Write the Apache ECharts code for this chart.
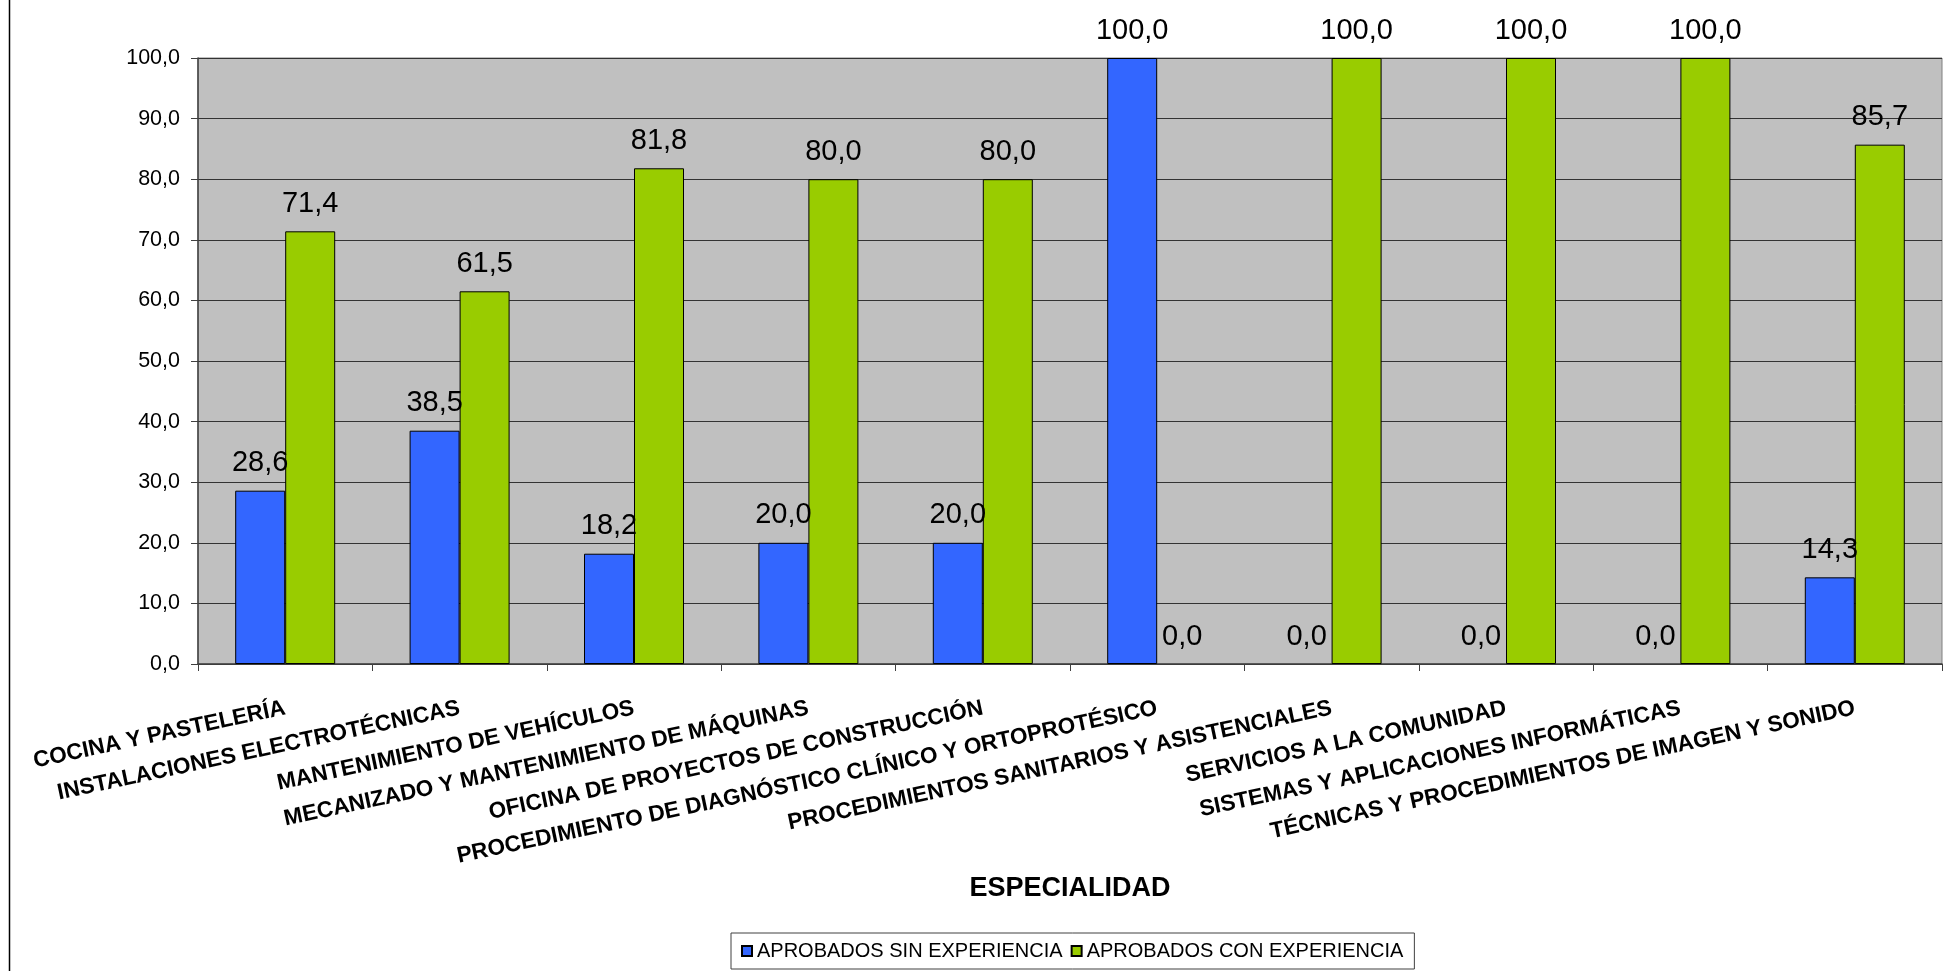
<!DOCTYPE html>
<html>
<head>
<meta charset="utf-8">
<script src="https://cdn.jsdelivr.net/npm/echarts@6/dist/echarts.min.js"></script>
<style>
html,body{margin:0;padding:0;background:#fff;}
#chart{width:1943px;height:971px;}
</style>
</head>
<body>
<div id="chart"></div>
<script>
const categories = [
  "COCINA Y PASTELERÍA",
  "INSTALACIONES ELECTROTÉCNICAS",
  "MANTENIMIENTO DE VEHÍCULOS",
  "MECANIZADO Y MANTENIMIENTO DE MÁQUINAS",
  "OFICINA DE PROYECTOS DE CONSTRUCCIÓN",
  "PROCEDIMIENTO DE DIAGNÓSTICO CLÍNICO Y ORTOPROTÉSICO",
  "PROCEDIMIENTOS SANITARIOS Y ASISTENCIALES",
  "SERVICIOS A LA COMUNIDAD",
  "SISTEMAS Y APLICACIONES INFORMÁTICAS",
  "TÉCNICAS Y PROCEDIMIENTOS DE IMAGEN Y SONIDO"
];
const sinExperiencia = [28.6, 38.5, 18.2, 20.0, 20.0, 100.0, 0.0, 0.0, 0.0, 14.3];
const conExperiencia = [71.4, 61.5, 81.8, 80.0, 80.0, 0.0, 100.0, 100.0, 100.0, 85.7];
const seriesNames = ["APROBADOS SIN EXPERIENCIA", "APROBADOS CON EXPERIENCIA"];
const axisTitle = "ESPECIALIDAD";

const fmt = v => Number(v).toFixed(1).replace('.', ',');
const FONT = '"Liberation Sans", Arial, sans-serif';

// zero-height bars draw no outline
const toItems = arr => arr.map(v => v === 0 ? {value: v, itemStyle: {borderWidth: 0}} : v);

const chart = echarts.init(document.getElementById('chart'), null, {renderer: 'canvas'});

const barLabel = {
  show: true,
  position: 'top',
  distance: 13,
  fontSize: 29,
  fontFamily: FONT,
  color: '#000',
  formatter: p => fmt(p.value)
};

chart.setOption({
  animation: false,
  backgroundColor: '#ffffff',
  textStyle: {fontFamily: FONT},
  graphic: [{
    type: 'line',
    shape: {x1: 9.5, y1: 0, x2: 9.5, y2: 971},
    style: {stroke: '#000', lineWidth: 1.5},
    silent: true
  }],
  grid: {
    left: 198, top: 58, right: 1, bottom: 307,
    show: true,
    backgroundColor: '#C0C0C0',
    borderColor: '#808080',
    borderWidth: 1
  },
  legend: {
    left: 731, top: 933,
    orient: 'horizontal',
    itemWidth: 10, itemHeight: 10,
    itemGap: 8,
    padding: [8, 11, 8, 10],
    borderColor: '#404040',
    borderWidth: 1,
    icon: 'rect',
    textStyle: {fontSize: 20, fontFamily: FONT, color: '#000'},
    data: seriesNames
  },
  xAxis: {
    type: 'category',
    data: categories,
    name: axisTitle,
    nameLocation: 'middle',
    nameGap: 211,
    nameTextStyle: {fontSize: 27, fontWeight: 'bold', color: '#000', fontFamily: FONT},
    axisLine: {show: true, lineStyle: {color: '#404040', width: 1.5}},
    axisTick: {show: true, length: 7, inside: false, lineStyle: {color: '#404040'}},
    axisLabel: {
      interval: 0,
      rotate: 12,
      margin: 44,
      fontSize: 22.5,
      fontWeight: 'bold',
      color: '#000',
      fontFamily: FONT,
      hideOverlap: false
    },
    splitLine: {show: false}
  },
  yAxis: {
    type: 'value',
    min: 0, max: 100, interval: 10,
    axisLine: {show: true, lineStyle: {color: '#404040', width: 1.5}},
    axisTick: {show: true, length: 7, lineStyle: {color: '#404040'}},
    axisLabel: {
      margin: 18,
      fontSize: 21.5,
      color: '#000',
      fontFamily: FONT,
      formatter: v => fmt(v)
    },
    splitLine: {show: true, lineStyle: {color: '#333', width: 1}}
  },
  series: [
    {
      name: seriesNames[0],
      type: 'bar',
      data: toItems(sinExperiencia),
      barWidth: 50,
      barGap: '0%',
      itemStyle: {color: '#3366FF', borderColor: '#000', borderWidth: 1},
      label: barLabel
    },
    {
      name: seriesNames[1],
      type: 'bar',
      data: toItems(conExperiencia),
      barWidth: 50,
      barGap: '0%',
      itemStyle: {color: '#99CC00', borderColor: '#000', borderWidth: 1},
      label: barLabel
    }
  ]
});
</script>
</body>
</html>
